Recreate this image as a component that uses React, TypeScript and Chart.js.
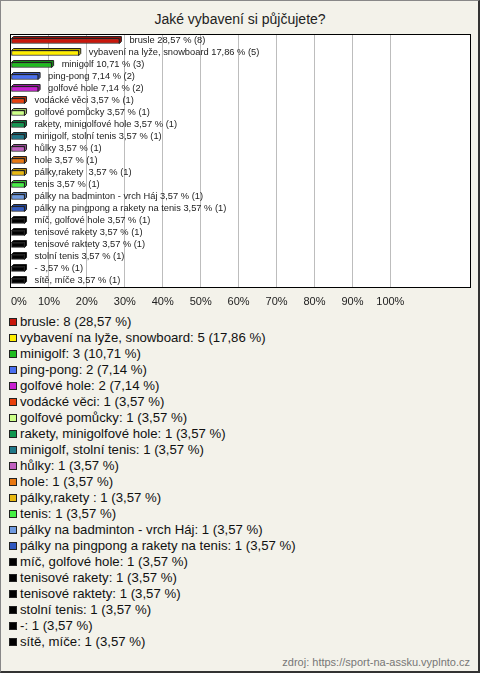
import React, { useEffect, useRef } from "react";
import { Chart, registerables } from "chart.js";

Chart.register(...registerables);

const TITLE = "Jaké vybavení si půjčujete?";
const SOURCE = "zdroj: https://sport-na-assku.vyplnto.cz";

const categories = [
  "brusle",
  "vybavení na lyže, snowboard",
  "minigolf",
  "ping-pong",
  "golfové hole",
  "vodácké věci",
  "golfové pomůcky",
  "rakety, minigolfové hole",
  "minigolf, stolní tenis",
  "hůlky",
  "hole",
  "pálky,rakety ",
  "tenis",
  "pálky na badminton - vrch Háj",
  "pálky na pingpong a rakety na tenis",
  "míč, golfové hole",
  "tenisové rakety",
  "tenisové raktety",
  "stolní tenis",
  "-",
  "sítě, míče",
];

const counts = [8, 5, 3, 2, 2, 1, 1, 1, 1, 1, 1, 1, 1, 1, 1, 1, 1, 1, 1, 1, 1];

const percents = [
  28.57, 17.86, 10.71, 7.14, 7.14, 3.57, 3.57, 3.57, 3.57, 3.57, 3.57, 3.57,
  3.57, 3.57, 3.57, 3.57, 3.57, 3.57, 3.57, 3.57, 3.57,
];

const colors = [
  "#c8170c",
  "#ffee00",
  "#1fbb1f",
  "#4a6ff0",
  "#c81fd0",
  "#e8400c",
  "#ccff88",
  "#109850",
  "#1f7888",
  "#c060c0",
  "#e87812",
  "#e8b810",
  "#44ee44",
  "#6f9ae0",
  "#2f58c0",
  "#000000",
  "#000000",
  "#000000",
  "#000000",
  "#000000",
  "#000000",
];

const xTickValues = [0, 10, 20, 30, 40, 50, 60, 70, 80, 90, 100];
const X_MAX = 121;

const fmt = (v: number) => v.toFixed(2).replace(".", ",");

function darken(hex: string, f: number) {
  const n = parseInt(hex.slice(1), 16);
  const r = Math.round(((n >> 16) & 255) * f);
  const g = Math.round(((n >> 8) & 255) * f);
  const b = Math.round((n & 255) * f);
  return `rgb(${r},${g},${b})`;
}

const FONT = "'Liberation Sans', Arial, sans-serif";
const DEPTH = 2;

const framePlugin = {
  id: "frame",
  beforeDraw(chart: any) {
    const { ctx, chartArea } = chart;
    ctx.save();
    ctx.fillStyle = "#ffffff";
    ctx.fillRect(chartArea.left, chartArea.top, chartArea.right - chartArea.left, chartArea.bottom - chartArea.top);
    ctx.restore();
  },
  afterDraw(chart: any) {
    const { ctx, chartArea } = chart;
    ctx.save();
    ctx.strokeStyle = "#000000";
    ctx.lineWidth = 1;
    ctx.strokeRect(
      chartArea.left - 0.5,
      chartArea.top - 0.5,
      chartArea.right - chartArea.left + 1,
      chartArea.bottom - chartArea.top + 1
    );
    ctx.restore();
  },
};

const depthPlugin = {
  id: "depth",
  beforeDatasetsDraw(chart: any) {
    const { ctx } = chart;
    const meta = chart.getDatasetMeta(0);
    ctx.save();
    ctx.lineWidth = 1;
    ctx.strokeStyle = "#222222";
    meta.data.forEach((el: any, i: number) => {
      const top = el.y - el.height / 2;
      const bottom = el.y + el.height / 2;
      const x = el.x;
      const b = el.base;
      ctx.fillStyle = darken(colors[i], 0.75);
      ctx.beginPath();
      ctx.moveTo(b, top);
      ctx.lineTo(b + DEPTH, top - DEPTH);
      ctx.lineTo(x + DEPTH, top - DEPTH);
      ctx.lineTo(x + DEPTH, bottom - DEPTH);
      ctx.lineTo(x, bottom);
      ctx.lineTo(x, top);
      ctx.closePath();
      ctx.fill();
      ctx.stroke();
    });
    ctx.restore();
  },
  afterDatasetsDraw(chart: any) {
    const { ctx } = chart;
    const meta = chart.getDatasetMeta(0);
    ctx.save();
    ctx.font = `9.3px ${FONT}`;
    ctx.fillStyle = "#222222";
    ctx.textBaseline = "middle";
    ctx.textAlign = "left";
    meta.data.forEach((el: any, i: number) => {
      const text = `${categories[i]} ${fmt(percents[i])} % (${counts[i]})`;
      ctx.fillText(text, el.x + DEPTH + 8, el.y - 0.5);
    });
    ctx.restore();
  },
};

export default function App() {
  const ref = useRef<HTMLCanvasElement>(null);

  useEffect(() => {
    if (!ref.current) return;
    const chart = new Chart(ref.current, {
      type: "bar",
      data: {
        labels: categories,
        datasets: [
          {
            data: percents,
            backgroundColor: colors,
            borderColor: "#222222",
            borderWidth: 1,
            borderSkipped: false,
            barThickness: 5,
          },
        ],
      },
      options: {
        indexAxis: "y",
        responsive: true,
        maintainAspectRatio: false,
        animation: false,
        layout: { padding: { left: 11, right: 10, top: 35, bottom: 5 } },
        plugins: {
          legend: { display: false },
          title: { display: false },
          tooltip: { enabled: false },
        },
        scales: {
          y: { display: false },
          x: {
            min: 0,
            max: X_MAX,
            afterBuildTicks: (scale: any) => {
              scale.ticks = [...xTickValues, X_MAX].map((v) => ({ value: v }));
            },
            afterFit: (scale: any) => {
              scale.height = 20;
            },
            border: { display: false },
            grid: {
              color: (c: any) =>
                c.tick && c.tick.value > 0 && c.tick.value <= 100 ? "#bdbdbd" : "rgba(0,0,0,0)",
              drawTicks: false,
              lineWidth: 1,
            },
            ticks: {
              autoSkip: false,
              maxRotation: 0,
              padding: 8,
              align: "inner",
              color: "#222222",
              font: { family: FONT, size: 11 },
              callback: (v: any) => (v <= 100 ? `${v}%` : ""),
            },
          },
        },
      },
      plugins: [framePlugin, depthPlugin],
    } as any);
    return () => chart.destroy();
  }, []);

  return (
    <div
      style={{
        position: "absolute",
        left: 0,
        top: 0,
        width: 480,
        height: 673,
        boxSizing: "border-box",
        background: "#f3f2ea",
        borderTop: "1px solid #888",
        borderLeft: "1px solid #888",
        borderRight: "2px solid #333",
        borderBottom: "2px solid #333",
        fontFamily: FONT,
        overflow: "hidden",
      }}
    >
      <div
        style={{
          position: "absolute",
          left: -1,
          top: 9,
          width: 480,
          textAlign: "center",
          fontSize: 14,
          color: "#222",
          lineHeight: "18px",
        }}
      >
        {TITLE}
      </div>
      <div style={{ position: "absolute", left: -1, top: -1, width: 480, height: 312 }}>
        <canvas ref={ref} />
      </div>
      <div style={{ position: "absolute", left: 8, top: 313 }}>
        {categories.map((c, i) => (
          <div
            key={i}
            style={{
              height: 16,
              lineHeight: "16px",
              fontSize: 13.2,
              color: "#111",
              whiteSpace: "nowrap",
              display: "flex",
              alignItems: "center",
            }}
          >
            <span
              style={{
                display: "inline-block",
                width: 6,
                height: 6,
                border: "1px solid #222",
                background: colors[i],
                marginRight: 3,
              }}
            />
            <span>{`${c}: ${counts[i]} (${fmt(percents[i])} %)`}</span>
          </div>
        ))}
      </div>
      <div
        style={{
          position: "absolute",
          right: 8,
          top: 654,
          fontSize: 11,
          color: "#777",
          lineHeight: "14px",
        }}
      >
        {SOURCE}
      </div>
    </div>
  );
}
